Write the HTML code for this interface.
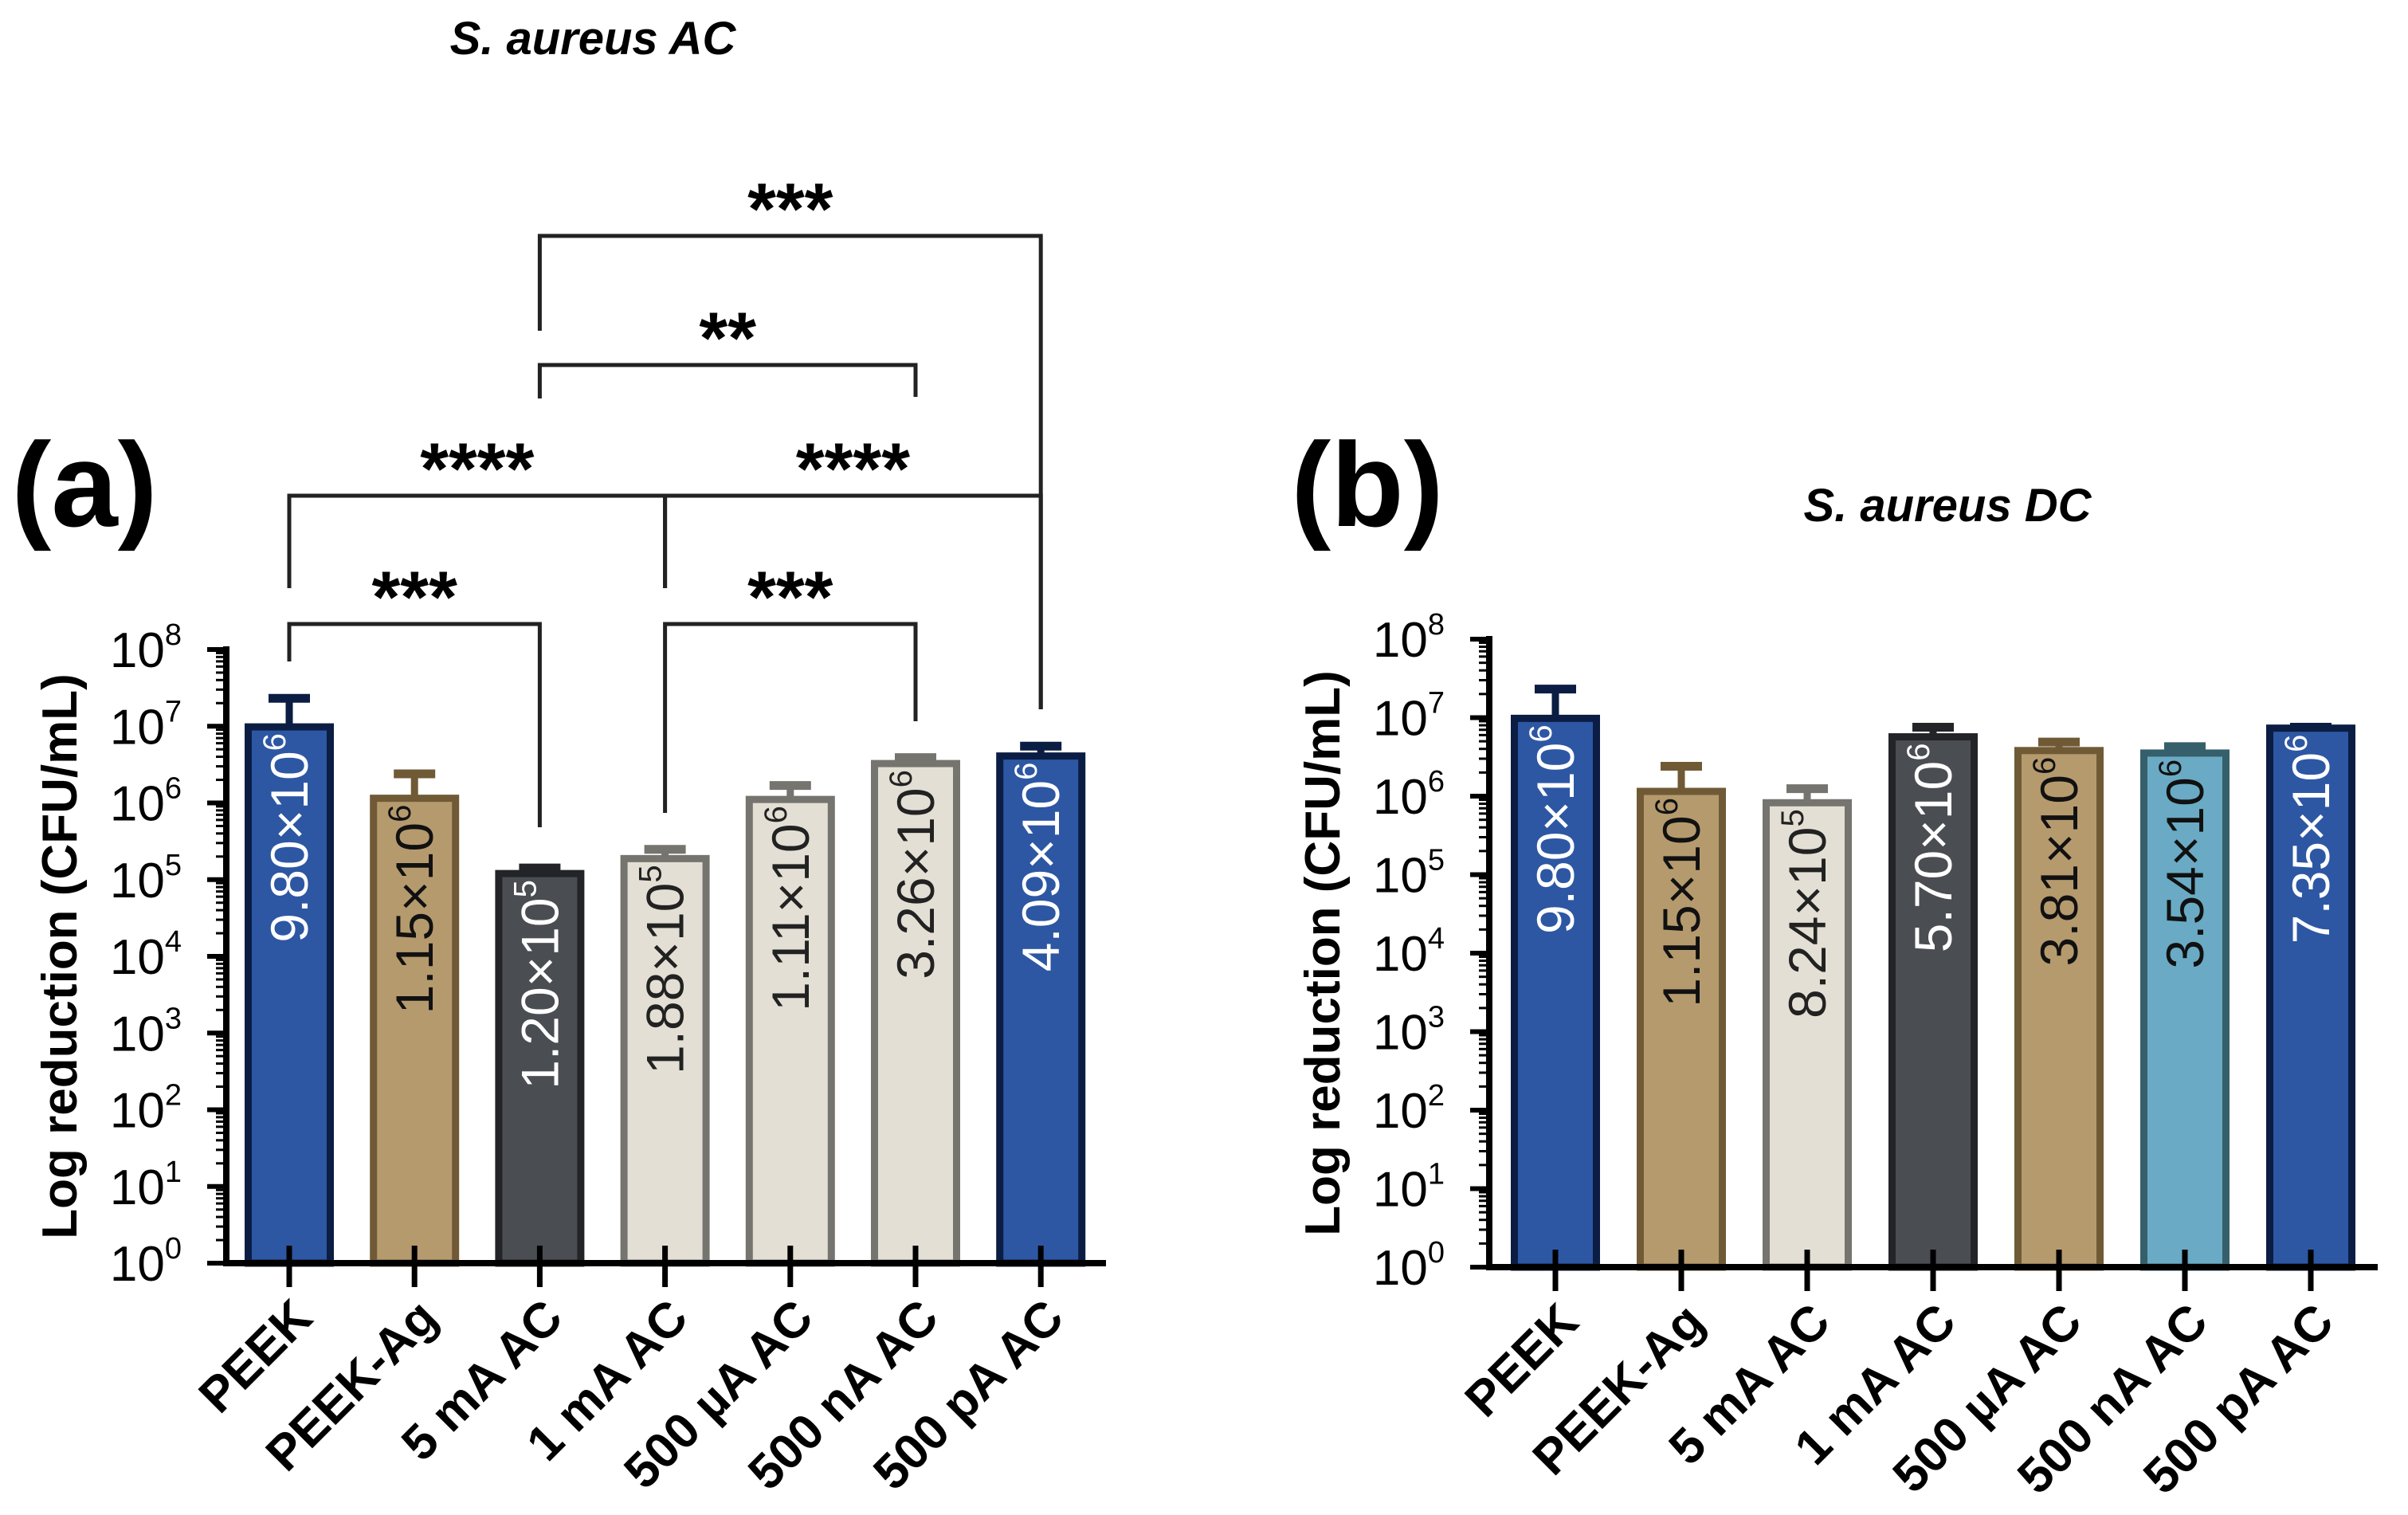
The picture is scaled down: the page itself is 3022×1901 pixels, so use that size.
<!DOCTYPE html>
<html><head><meta charset="utf-8"><style>
html,body{margin:0;padding:0;background:#fff}
svg{display:block}
text{font-family:"Liberation Sans",Arial,sans-serif}
</style></head><body>
<svg id="chart" width="3022" height="1901" viewBox="0 0 3022 1901" xmlns="http://www.w3.org/2000/svg">
<text x="744" y="68" text-anchor="middle" font-size="58" font-weight="bold" font-style="italic">S. aureus AC</text>
<text x="2444" y="654" text-anchor="middle" font-size="58" font-weight="bold" font-style="italic">S. aureus DC</text>
<text x="106" y="660" text-anchor="middle" font-size="150" font-weight="bold">(a)</text>
<text x="1716" y="660" text-anchor="middle" font-size="150" font-weight="bold">(b)</text>
<g id="plots"></g>
</svg>
<script>
const categories = ["PEEK","PEEK-Ag","5 mA AC","1 mA AC","500 \u00b5A AC","500 nA AC","500 pA AC"];
const valuesA = [9.80e6, 1.15e6, 1.20e5, 1.88e5, 1.11e6, 3.26e6, 4.09e6];
const errTopA = [2.6e7, 2.7e6, 1.6e5, 2.8e5, 1.9e6, 4.4e6, 6.2e6];
const labelsA = [["9.80","6"],["1.15","6"],["1.20","5"],["1.88","5"],["1.11","6"],["3.26","6"],["4.09","6"]];
const valuesB = [9.80e6, 1.15e6, 8.24e5, 5.70e6, 3.81e6, 3.54e6, 7.35e6];
const errTopB = [2.6e7, 2.7e6, 1.4e6, 8.5e6, 5.5e6, 4.8e6, 8.5e6];
const labelsB = [["9.80","6"],["1.15","6"],["8.24","5"],["5.70","6"],["3.81","6"],["3.54","6"],["7.35","6"]];
const yTickExps = [0,1,2,3,4,5,6,7,8];
const sigPairs = [[2,6],[2,5],[0,3],[3,6],[0,2],[3,5]];
const sigLabels = ["***","**","****","****","***","***"];

const NS="http://www.w3.org/2000/svg";
const root=document.getElementById('plots');
const styles={
 blue:{fill:"#2d57a3",stroke:"#0c1d44",txt:"#ffffff"},
 tan:{fill:"#b59a6e",stroke:"#705a36",txt:"#111"},
 dark:{fill:"#4a4d52",stroke:"#222428",txt:"#ffffff"},
 light:{fill:"#e4dfd4",stroke:"#76746f",txt:"#222"},
 teal:{fill:"#6aaac4",stroke:"#365f6c",txt:"#111"}
};
const colorsA=["blue","tan","dark","light","light","light","blue"];
const colorsB=["blue","tan","light","dark","tan","teal","blue"];
function mk(tag,attrs,parent){const e=document.createElementNS(NS,tag);for(const k in attrs)e.setAttribute(k,attrs[k]);(parent||root).appendChild(e);return e;}

function drawPanel(p){
 const g=mk('g',{});
 
 
 const yScale=v=>p.y0-Math.log10(v)*(p.y0-p.y8)/8;
 const xScale=i=>p.x0+i*p.step;
 p.values.forEach((v,i)=>{
  const st=styles[p.colors[i]];
  const cx=xScale(i), w=103, top=yScale(v);
  const et=yScale(p.err[i]);
  const eb=mk('line',{x1:cx,x2:cx,y1:top,y2:et,stroke:st.stroke,'stroke-width':9},g);
  
  
  const cap=mk('line',{x1:cx-26,x2:cx+26,y1:et+5,y2:et+5,stroke:st.stroke,'stroke-width':11},g);
  
  
  const r=mk('rect',{x:cx-w/2,y:top,width:w,height:p.y0-top,fill:st.fill,stroke:st.stroke,'stroke-width':9},g);
  
  
  const t=mk('text',{x:0,y:0,transform:`translate(${cx+23},${top+8}) rotate(-90)`,'text-anchor':'end','font-size':66,fill:st.txt},g);
  
  
  t.appendChild(document.createTextNode(p.labels[i][0]+"\u00d710"));
  const s=mk('tspan',{'font-size':40,dy:-28},t);s.textContent=p.labels[i][1];
 });
 const ya=mk('line',{x1:p.axX,x2:p.axX,y1:p.y8-4,y2:p.y0+4,stroke:"#000",'stroke-width':8},g);
 
 
 const xa=mk('line',{x1:p.axX-4,x2:p.xEnd,y1:p.y0,y2:p.y0,stroke:"#000",'stroke-width':8},g);
 
 
 yTickExps.forEach(e=>{
  const y=yScale(Math.pow(10,e));
  mk('line',{x1:p.axX-24,x2:p.axX,y1:y,y2:y,stroke:"#000",'stroke-width':6},g);
  if(e<8){for(let m=2;m<10;m++){const ym=yScale(m*Math.pow(10,e));mk('line',{x1:p.axX-13,x2:p.axX,y1:ym,y2:ym,stroke:"#000",'stroke-width':3},g);}}
  const t=mk('text',{x:p.axX-56,y:y+22,'text-anchor':'end','font-size':62},g);
  
  
  t.textContent="10";
  const s=mk('tspan',{'font-size':38,dy:-28},t);s.textContent=String(e);
 });
 const yt=mk('text',{transform:`translate(${p.axX-188},${(p.y0+p.y8)/2}) rotate(-90)`,'text-anchor':'middle','font-size':62,'font-weight':'bold'},g);
 
 
 yt.textContent="Log reduction (CFU/mL)";
 categories.forEach((c,i)=>{
  const cx=xScale(i);
  mk('line',{x1:cx,x2:cx,y1:p.y0-22,y2:p.y0+30,stroke:"#000",'stroke-width':7},g);
  const t=mk('text',{transform:`translate(${cx+32},${p.y0+72}) rotate(-45)`,'text-anchor':'end','font-size':62,'font-weight':'bold'},g);
  
  
  t.textContent=c;
 });
 return {xScale,yScale,g};
}
const A=drawPanel({name:'panel-a',values:valuesA,err:errTopA,labels:labelsA,colors:colorsA,x0:363,step:157.2,axX:284,xEnd:1388,y0:1585,y8:815});
drawPanel({name:'panel-b',values:valuesB,err:errTopB,labels:labelsB,colors:colorsB,x0:1952,step:158,axX:1869,xEnd:2984,y0:1590,y8:802});

const brY=[296,458,622,622,783,783];
const legs=[[415,890],[500,498],[738,738],[738,890],[830,1038],[1020,905]];
sigPairs.forEach((pr,k)=>{
 const x1=A.xScale(pr[0]),x2=A.xScale(pr[1]),y=brY[k];
 const path=mk('path',{d:`M${x1},${legs[k][0]}V${y}H${x2}V${legs[k][1]}`,fill:'none',stroke:'#222','stroke-width':5});
 
 
 const t=mk('text',{x:(x1+x2)/2,y:y-2,'text-anchor':'middle','font-size':92,'font-weight':'bold'});
 
 
 t.textContent=sigLabels[k];
});
</script>
</body></html>
